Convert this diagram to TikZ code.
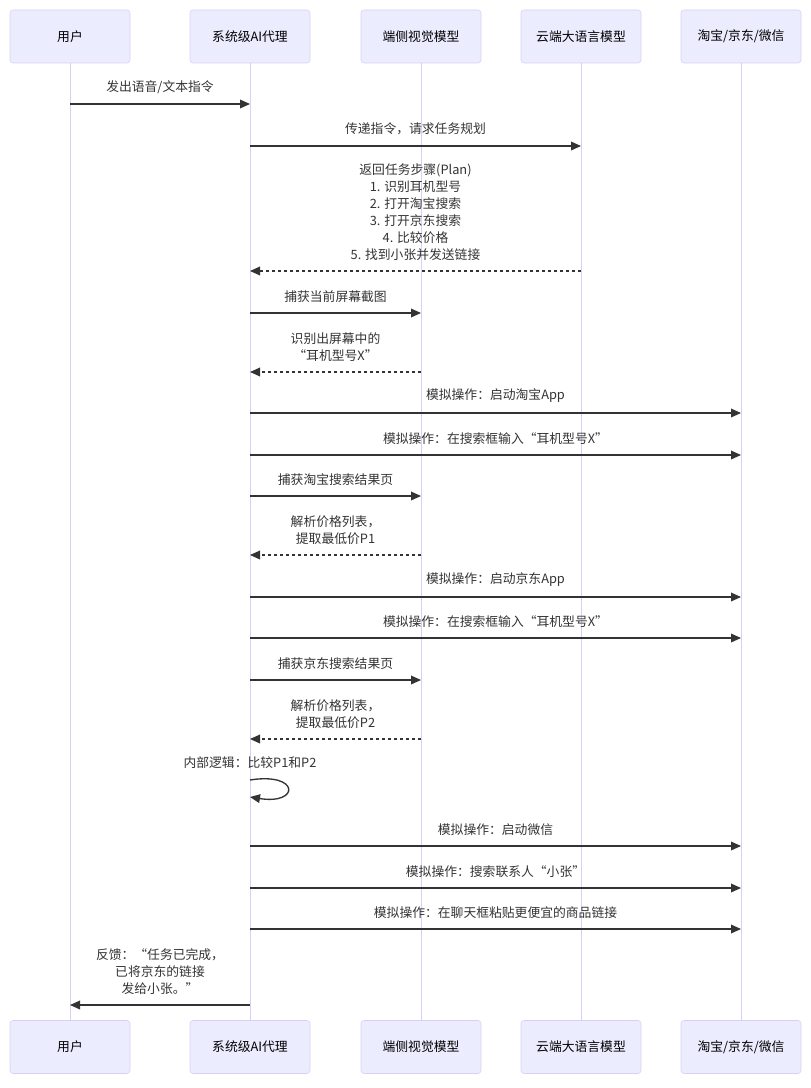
\documentclass[tikz,border=0pt]{standalone}
\usepackage{fontspec}
\usepackage{xcolor}
\usepackage{tikz}
\setmainfont{Noto Sans CJK SC}
\usetikzlibrary{arrows.meta}
\definecolor{actorfill}{HTML}{ECECFF}
\definecolor{lifeline}{HTML}{D9CFF3}
\definecolor{msgline}{HTML}{333333}

\begin{document}
\begin{tikzpicture}[x=0.75pt, y=-0.75pt,
    actor/.style={draw=lifeline, fill=actorfill, rounded corners=2.25pt, minimum width=90pt, minimum height=39.75pt, font=\fontsize{9.6}{12.75}\selectfont},
    life/.style={draw=lifeline, line width=0.75pt},
    msg/.style={draw=msgline, line width=1pt, -{Triangle[length=7.5pt, width=6.5pt]}},
    reply/.style={msg, dash pattern=on 2.25pt off 2.25pt},
    note/.style={text=msgline, font=\fontsize{9.6}{12.75}\selectfont, align=center, inner sep=0pt},
    lbl/.style={note, above=7.5pt}]
                \useasboundingbox (0, 0) rectangle (810, 1088);
                % actors, top and bottom
                \node[actor] (user) at (70, 36.5) {用户};
                \node[actor] (agent) at (250, 36.5) {系统级AI代理};
                \node[actor] (vision) at (421, 36.5) {端侧视觉模型};
                \node[actor] (llm) at (581, 36.5) {云端大语言模型};
                \node[actor] (apps) at (741, 36.5) {淘宝/京东/微信};
                \node[actor] (user2) at (70, 1047) {用户};
                \node[actor] (agent2) at (250, 1047) {系统级AI代理};
                \node[actor] (vision2) at (421, 1047) {端侧视觉模型};
                \node[actor] (llm2) at (581, 1047) {云端大语言模型};
                \node[actor] (apps2) at (741, 1047) {淘宝/京东/微信};
                \draw[life] (user.south) -- (user2.north);
                \draw[life] (agent.south) -- (agent2.north);
                \draw[life] (vision.south) -- (vision2.north);
                \draw[life] (llm.south) -- (llm2.north);
                \draw[life] (apps.south) -- (apps2.north);
                % messages
                \draw[msg] (user |- 0, 104) -- node[lbl] {发出语音/文本指令} (agent |- 0, 104);
                \draw[msg] (agent |- 0, 146) -- node[lbl] {传递指令，请求任务规划} (llm |- 0, 146);
                \draw[reply] (llm |- 0, 271) -- node[lbl] {返回任务步骤(Plan)\\1. 识别耳机型号\\2. 打开淘宝搜索\\3. 打开京东搜索\\4. 比较价格\\5. 找到小张并发送链接} (agent |- 0, 271);
                \draw[msg] (agent |- 0, 313) -- node[lbl] {捕获当前屏幕截图} (vision |- 0, 313);
                \draw[reply] (vision |- 0, 372) -- node[lbl] {识别出屏幕中的\\“耳机型号X”} (agent |- 0, 372);
                \draw[msg] (agent |- 0, 413) -- node[lbl] {模拟操作：启动淘宝App} (apps |- 0, 413);
                \draw[msg] (agent |- 0, 455) -- node[lbl] {模拟操作：在搜索框输入“耳机型号X”} (apps |- 0, 455);
                \draw[msg] (agent |- 0, 496) -- node[lbl] {捕获淘宝搜索结果页} (vision |- 0, 496);
                \draw[reply] (vision |- 0, 555) -- node[lbl] {解析价格列表，\\提取最低价P1} (agent |- 0, 555);
                \draw[msg] (agent |- 0, 597) -- node[lbl] {模拟操作：启动京东App} (apps |- 0, 597);
                \draw[msg] (agent |- 0, 638) -- node[lbl] {模拟操作：在搜索框输入“耳机型号X”} (apps |- 0, 638);
                \draw[msg] (agent |- 0, 680) -- node[lbl] {捕获京东搜索结果页} (vision |- 0, 680);
                \draw[reply] (vision |- 0, 739) -- node[lbl] {解析价格列表，\\提取最低价P2} (agent |- 0, 739);
                \node[note] (logic) at (agent |- 0, 763) {内部逻辑：比较P1和P2};
                \draw[msg] (agent |- 0, 780) .. controls +(50, -8) and +(50, 8) .. (agent |- 0, 797);
                \draw[msg] (agent |- 0, 846) -- node[lbl] {模拟操作：启动微信} (apps |- 0, 846);
                \draw[msg] (agent |- 0, 888) -- node[lbl] {模拟操作：搜索联系人“小张”} (apps |- 0, 888);
                \draw[msg] (agent |- 0, 929) -- node[lbl] {模拟操作：在聊天框粘贴更便宜的商品链接} (apps |- 0, 929);
                \draw[msg] (agent |- 0, 1005) -- node[lbl] {反馈：“任务已完成，\\已将京东的链接\\发给小张。”} (user |- 0, 1005);
            \end{tikzpicture}
\end{document}
